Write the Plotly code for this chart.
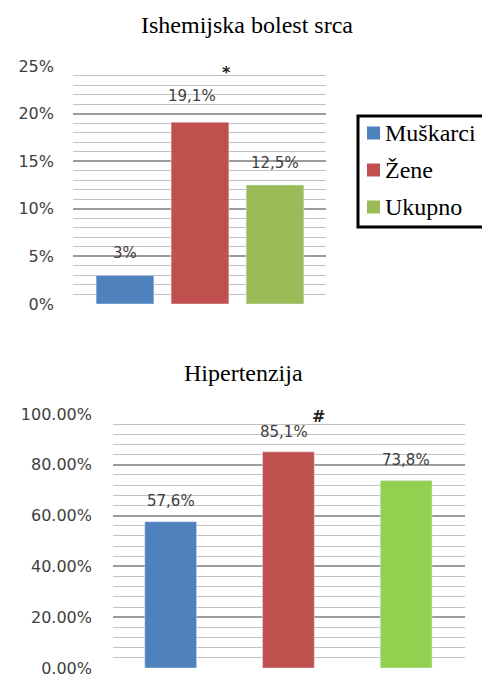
import plotly.graph_objects as go

W, H = 482, 675

groups = ["Muškarci", "Žene", "Ukupno"]
ihd_values = [0.03, 0.191, 0.125]
ihd_labels = ["3%", "19,1%", "12,5%"]
htn_values = [0.576, 0.851, 0.738]
htn_labels = ["57,6%", "85,1%", "73,8%"]
titles = ["Ishemijska bolest srca", "Hipertenzija"]
markers = ["*", "#"]

colors_top = ["#4F81BD", "#C0504D", "#9BBB59"]
colors_bot = ["#4F81BD", "#C0504D", "#92D050"]
label_xshift = [0, -8, 0]
label_yshift_top = [22, 26, 22]
label_yshift_bot = [21, 20, 21]

fig = go.Figure()

for i, g in enumerate(groups):
    fig.add_trace(go.Bar(x=[g], y=[ihd_values[i]], name=g, marker_color=colors_top[i],
                         width=0.77, xaxis="x", yaxis="y", showlegend=False, hoverinfo="skip"))
for i, g in enumerate(groups):
    fig.add_trace(go.Bar(x=[g], y=[htn_values[i]], name=g, marker_color=colors_bot[i],
                         width=0.44, xaxis="x2", yaxis="y2", showlegend=False, hoverinfo="skip"))

ann = []
for i, g in enumerate(groups):
    ann.append(dict(x=g, y=ihd_values[i], xref="x", yref="y", text=ihd_labels[i],
                    showarrow=False, yanchor="middle", yshift=label_yshift_top[i],
                    xshift=label_xshift[i],
                    font=dict(family="DejaVu Sans", size=15, color="#404040")))
    ann.append(dict(x=g, y=htn_values[i], xref="x2", yref="y2", text=htn_labels[i],
                    showarrow=False, yanchor="middle", yshift=label_yshift_bot[i],
                    xshift=label_xshift[i] // 2,
                    font=dict(family="DejaVu Sans", size=15, color="#404040")))

ann.append(dict(x=groups[1], y=ihd_values[1], xref="x", yref="y", text="<b>" + markers[0] + "</b>",
                showarrow=False, yanchor="middle", xshift=27, yshift=50,
                font=dict(family="DejaVu Sans", size=16, color="#202020")))
ann.append(dict(x=groups[1], y=htn_values[1], xref="x2", yref="y2", text="<b>" + markers[1] + "</b>",
                showarrow=False, yanchor="middle", xshift=30, yshift=35,
                font=dict(family="DejaVu Sans", size=16, color="#202020")))

ann.append(dict(x=247 / W, y=1 - 25 / H, xref="paper", yref="paper", text=titles[0],
                showarrow=False, xanchor="center", yanchor="middle",
                font=dict(family="Liberation Serif", size=24, color="black")))
ann.append(dict(x=243 / W, y=1 - 373 / H, xref="paper", yref="paper", text=titles[1],
                showarrow=False, xanchor="center", yanchor="middle",
                font=dict(family="Liberation Serif", size=24, color="black")))

# legend box drawn as shapes + text
shapes = [dict(type="rect", xref="paper", yref="paper", x0=358 / W, x1=484 / W,
               y0=1 - 227 / H, y1=1 - 116 / H, line=dict(color="black", width=3),
               fillcolor="white", layer="above")]
leg_y = [133, 170, 207]
for i, g in enumerate(groups):
    shapes.append(dict(type="rect", xref="paper", yref="paper", x0=367 / W, x1=380 / W,
                       y0=1 - (leg_y[i] + 6.5) / H, y1=1 - (leg_y[i] - 6.5) / H,
                       line=dict(width=0), fillcolor=colors_top[i], layer="above"))
    ann.append(dict(x=383 / W, y=1 - leg_y[i] / H, xref="paper", yref="paper", text=g,
                    showarrow=False, xanchor="left", yanchor="middle",
                    font=dict(family="Liberation Serif", size=24, color="black")))

tickfont = dict(family="DejaVu Sans", size=16, color="#404040")
major_grid = dict(gridcolor="#9c9c9c", gridwidth=2)
minor_grid = dict(showgrid=True, gridcolor="#c2c2c2", gridwidth=1)

fig.update_layout(
    width=W, height=H,
    margin=dict(l=0, r=0, t=0, b=0, autoexpand=False),
    paper_bgcolor="white", plot_bgcolor="white",
    barmode="overlay",
    annotations=ann,
    shapes=shapes,
    showlegend=False,
    xaxis=dict(domain=[73 / W, 326 / W], type="category", categoryorder="array",
               categoryarray=groups, range=[-0.693, 2.68], showticklabels=False,
               showgrid=False, zeroline=False, showline=False, anchor="y", automargin=False),
    yaxis=dict(domain=[1 - 304 / H, 1 - 66 / H], range=[0, 0.25], dtick=0.05,
               tickformat=".0%", tickfont=tickfont, showgrid=True, **major_grid,
               zeroline=False, showline=False, ticks="", ticklabelstandoff=18,
               ticklabeloverflow="allow", minor=dict(dtick=0.01, **minor_grid),
               anchor="x", automargin=False),
    xaxis2=dict(domain=[113 / W, 465 / W], type="category", categoryorder="array",
                categoryarray=groups, range=[-0.49, 2.5], showticklabels=False,
                showgrid=False, zeroline=False, showline=False, anchor="y2", automargin=False),
    yaxis2=dict(domain=[1 - 668 / H, 1 - 414 / H], range=[0, 1], dtick=0.2,
                tickformat=".2%", tickfont=tickfont, showgrid=True, **major_grid,
                zeroline=False, showline=False, ticks="", ticklabelstandoff=20,
                ticklabeloverflow="allow", minor=dict(dtick=0.04, **minor_grid),
                anchor="x2", automargin=False),
)

fig.write_html("out.html", config={"displayModeBar": False},
               post_script="document.body.style.margin='0';document.body.style.overflow='hidden';")
